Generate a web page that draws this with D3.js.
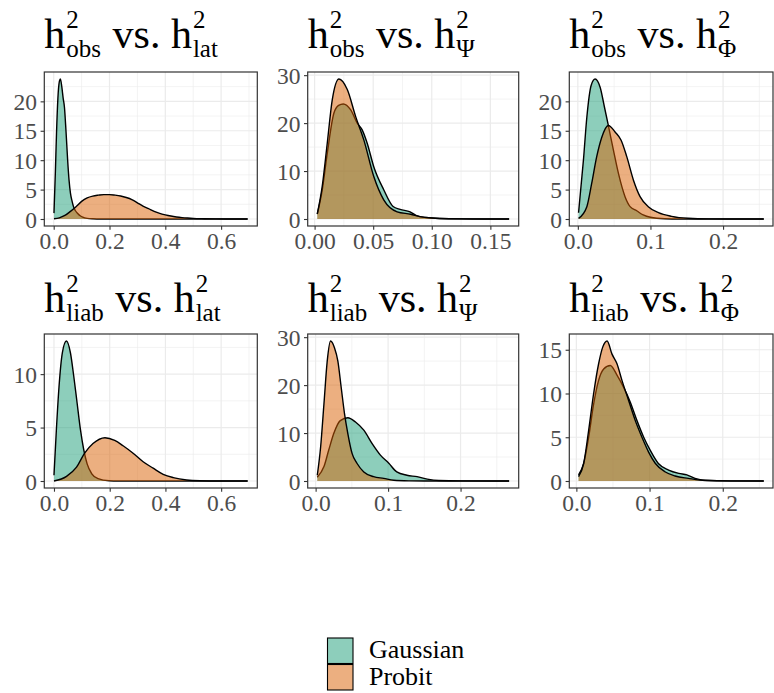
<!DOCTYPE html>
<html>
<head>
<script src="https://d3js.org/d3.v7.min.js"></script>
<style>
  body { margin: 0; background: #fff; }
  svg { display: block; }
  text { font-family: 'Liberation Serif', 'DejaVu Serif', serif; }
</style>
</head>
<body>
<script>
// series names / colours (Dark2, drawn at alpha 0.5)
const seriesNames = ['Gaussian', 'Probit'];
const seriesColors = ['#1b9e77', '#d95f02'];

// densities: [x, density]
const gaussObsLat = [[0.001,1.0],[0.006,8],[0.010,14.5],[0.015,20.5],[0.020,23.3],[0.024,23.8],[0.029,22.5],[0.034,20.5],[0.0385,19],[0.044,15],[0.050,10],[0.055,6.6],[0.060,4.4],[0.066,3.0],[0.071,2.1],[0.078,1.4],[0.086,0.95],[0.095,0.55],[0.104,0.3],[0.12,0.1],[0.14,0.03],[0.17,0],[0.695,0]];
const probitObsLat = [[0.001,0.05],[0.02,0.2],[0.04,0.6],[0.06,1.3],[0.08,2.1],[0.10,3.0],[0.12,3.6],[0.14,3.9],[0.16,4.05],[0.18,4.15],[0.20,4.15],[0.22,4.05],[0.24,3.9],[0.26,3.65],[0.28,3.3],[0.30,2.75],[0.32,2.2],[0.34,1.75],[0.36,1.3],[0.38,0.95],[0.40,0.7],[0.42,0.5],[0.44,0.35],[0.46,0.24],[0.48,0.16],[0.50,0.1],[0.54,0.05],[0.58,0.02],[0.62,0.01],[0.66,0.003],[0.695,0]];

const gaussObsPsi = [[0.0023,1.0],[0.0065,6.0],[0.0108,13.7],[0.0165,22.1],[0.0205,23.7],[0.0245,24],[0.0307,22.8],[0.0364,20],[0.0406,18.6],[0.0449,15.8],[0.0505,10.9],[0.059,6.1],[0.067,2.6],[0.073,2.0],[0.0815,1.5],[0.087,0.7],[0.095,0.3],[0.107,0.1],[0.125,0.03],[0.145,0.01],[0.166,0]];
const probitObsPsi = [[0.0023,1.05],[0.0065,6.8],[0.0108,15.8],[0.0151,24.9],[0.0208,29.2],[0.0279,27],[0.035,21.4],[0.042,16.5],[0.0505,8.85],[0.059,4.0],[0.0705,1.5],[0.082,1.0],[0.09,0.5],[0.10,0.2],[0.115,0.05],[0.135,0.01],[0.16,0],[0.166,0]];

const gaussObsPhi = [[0.001,1.07],[0.0077,10],[0.0124,17.3],[0.0183,22.7],[0.0238,23.8],[0.0307,22.4],[0.0367,19],[0.042,15.9],[0.049,11.7],[0.056,7.7],[0.065,3.8],[0.072,2.1],[0.081,1.4],[0.09,0.7],[0.10,0.3],[0.12,0.05],[0.14,0],[0.256,0]];
const probitObsPhi = [[0.001,0.1],[0.0124,2.1],[0.019,6],[0.026,10.6],[0.033,13.9],[0.042,15.9],[0.0513,14.8],[0.0596,13.4],[0.0674,10.6],[0.0766,6.6],[0.0857,3.8],[0.097,2.1],[0.111,1.07],[0.129,0.45],[0.152,0.12],[0.18,0.02],[0.22,0.003],[0.256,0]];

const gaussLiabLat = [[0.0,0.54],[0.0086,4.8],[0.018,8.8],[0.030,12],[0.0446,13.1],[0.059,12],[0.071,9.8],[0.083,7.3],[0.095,4.8],[0.107,2.9],[0.119,1.6],[0.135,0.7],[0.158,0.22],[0.198,0.02],[0.23,0],[0.695,0]];
const probitLiabLat = [[0.0,0.0],[0.045,0.44],[0.081,1.3],[0.11,2.6],[0.14,3.5],[0.183,4.05],[0.218,3.8],[0.248,3.3],[0.284,2.6],[0.32,1.8],[0.356,1.2],[0.392,0.63],[0.428,0.32],[0.476,0.1],[0.524,0.03],[0.60,0.005],[0.695,0]];

const gaussLiabPsi = [[0.0023,0.8],[0.0115,3],[0.018,6.4],[0.025,9.9],[0.034,12.6],[0.0445,13.2],[0.055,12.3],[0.0665,10.6],[0.078,7.8],[0.0894,5.4],[0.101,3.7],[0.112,1.9],[0.126,1.2],[0.14,0.9],[0.154,0.4],[0.17,0.1],[0.20,0.02],[0.267,0]];
const probitLiabPsi = [[0.0023,1.2],[0.0069,7.1],[0.0115,16.1],[0.016,25],[0.0206,29.2],[0.026,27.8],[0.0307,25],[0.0353,19.5],[0.0399,14],[0.0445,9.85],[0.0504,5.7],[0.057,3.7],[0.0665,1.9],[0.08,0.9],[0.094,0.55],[0.108,0.15],[0.13,0.03],[0.15,0],[0.267,0]];

const gaussLiabPhi = [[0.003,0.7],[0.01,2],[0.0168,5],[0.0236,8.8],[0.0304,11.5],[0.0373,12.8],[0.0464,13.2],[0.0555,12.1],[0.0646,10.7],[0.0737,9.0],[0.0828,6.9],[0.092,5.0],[0.101,3.5],[0.112,2.0],[0.126,1.25],[0.14,0.87],[0.151,0.7],[0.162,0.3],[0.176,0.08],[0.21,0.01],[0.256,0]];
const probitLiabPhi = [[0.003,0.5],[0.01,2],[0.0168,5.8],[0.0236,10],[0.0304,13.4],[0.036,15.3],[0.042,16],[0.0487,14.5],[0.0555,13.4],[0.0623,11.5],[0.0714,9.2],[0.0805,6.9],[0.0896,5],[0.0987,3.3],[0.108,2],[0.121,1.06],[0.135,0.57],[0.153,0.3],[0.176,0.05],[0.21,0.005],[0.256,0]];

// tick values per panel
const xTicksLat = [0, 0.2, 0.4, 0.6];
const xTicksPsiObs = [0, 0.05, 0.10, 0.15];
const xTicksPhi = [0, 0.1, 0.2];
const yTicks5 = [0, 5, 10, 15, 20];
const yTicks10 = [0, 10, 20, 30];
const yTicksLiabLat = [0, 5, 10];
const yTicksLiabPhi = [0, 5, 10, 15];

const titleSubs = [['obs', 'lat'], ['obs', '\u03a8'], ['obs', '\u03a6'], ['liab', 'lat'], ['liab', '\u03a8'], ['liab', '\u03a6']];

const width = 774, height = 693;
const svg = d3.select('body').append('svg').attr('width', width).attr('height', height);

const panels = [
  { box: [44.3, 72, 257.3, 226], series: [gaussObsLat, probitObsLat], xt: xTicksLat, xf: '.1f', yt: yTicks5, sub: titleSubs[0], ty: 48 },
  { box: [307.7, 72, 518.7, 226], series: [gaussObsPsi, probitObsPsi], xt: xTicksPsiObs, xf: '.2f', yt: yTicks10, sub: titleSubs[1], ty: 48 },
  { box: [569.3, 72, 773, 226], series: [gaussObsPhi, probitObsPhi], xt: xTicksPhi, xf: '.1f', yt: yTicks5, sub: titleSubs[2], ty: 48 },
  { box: [44.3, 334, 257.3, 488], series: [gaussLiabLat, probitLiabLat], xt: xTicksLat, xf: '.1f', yt: yTicksLiabLat, sub: titleSubs[3], ty: 312 },
  { box: [307.7, 334, 518.7, 488], series: [gaussLiabPsi, probitLiabPsi], xt: xTicksPhi, xf: '.1f', yt: yTicks10, sub: titleSubs[4], ty: 312 },
  { box: [569.3, 334, 773, 488], series: [gaussLiabPhi, probitLiabPhi], xt: xTicksPhi, xf: '.1f', yt: yTicksLiabPhi, sub: titleSubs[5], ty: 312 }
];

function minorOf(ticks, domain) {
  const step = ticks[1] - ticks[0];
  const out = [];
  for (let v = ticks[0] - step / 2; v <= domain[1]; v += step) {
    if (v >= domain[0]) out.push(v);
  }
  return out;
}

function drawTitle(x0, yBase, sub1, sub2) {
  const g = svg.append('g').attr('fill', '#000');
  let cx = x0;
  const put = (txt, y, size) => g.append('text').attr('x', cx).attr('y', y).attr('font-size', size).style('white-space', 'pre').text(txt);
  [[sub1], [' vs. '], [sub2]].forEach(([s], i) => {
    if (i === 1) {
      cx += put(s, yBase, 42).node().getComputedTextLength();
      return;
    }
    cx += put('h', yBase, 42).node().getComputedTextLength() + 1;
    const w1 = put('2', yBase - 20, 25).node().getComputedTextLength();
    const w2 = put(s, yBase + 9, 25).node().getComputedTextLength();
    cx += Math.max(w1, w2) + 1;
  });
}

panels.forEach((p, i) => {
  const [x0, y0, x1, y1] = p.box;
  const allPts = p.series.flat();
  const xmin = d3.min(allPts, d => d[0]), xmax = d3.max(allPts, d => d[0]);
  const xr = xmax - xmin;
  const ymax = d3.max(allPts, d => d[1]);
  const x = d3.scaleLinear().domain([xmin - 0.05 * xr, xmax + 0.05 * xr]).range([x0, x1]);
  const y = d3.scaleLinear().domain([-0.05 * ymax, 1.05 * ymax]).range([y1, y0]);

  const g = svg.append('g');
  const clipId = 'clip' + i;
  g.append('clipPath').attr('id', clipId).append('rect').attr('x', x0).attr('y', y0).attr('width', x1 - x0).attr('height', y1 - y0);

  const grid = g.append('g').attr('clip-path', `url(#${clipId})`);
  minorOf(p.xt, x.domain()).forEach(v => grid.append('line').attr('x1', x(v)).attr('x2', x(v)).attr('y1', y0).attr('y2', y1).attr('stroke', '#ebebeb').attr('stroke-width', 0.6));
  minorOf(p.yt, y.domain()).forEach(v => grid.append('line').attr('y1', y(v)).attr('y2', y(v)).attr('x1', x0).attr('x2', x1).attr('stroke', '#ebebeb').attr('stroke-width', 0.6));
  p.xt.forEach(v => grid.append('line').attr('x1', x(v)).attr('x2', x(v)).attr('y1', y0).attr('y2', y1).attr('stroke', '#ebebeb').attr('stroke-width', 1.2));
  p.yt.forEach(v => grid.append('line').attr('y1', y(v)).attr('y2', y(v)).attr('x1', x0).attr('x2', x1).attr('stroke', '#ebebeb').attr('stroke-width', 1.2));

  const area = d3.area().x(d => x(d[0])).y0(y(0)).y1(d => y(d[1])).curve(d3.curveMonotoneX);
  const line = d3.line().x(d => x(d[0])).y(d => y(d[1])).curve(d3.curveMonotoneX);
  const marks = g.append('g').attr('clip-path', `url(#${clipId})`);
  p.series.forEach((s, k) => {
    marks.append('path').attr('d', area(s)).attr('fill', seriesColors[k]).attr('fill-opacity', 0.5);
    marks.append('path').attr('d', line(s)).attr('fill', 'none').attr('stroke', '#000').attr('stroke-width', 1.4);
  });

  g.append('rect').attr('x', x0).attr('y', y0).attr('width', x1 - x0).attr('height', y1 - y0)
    .attr('fill', 'none').attr('stroke', '#333').attr('stroke-width', 1.2);

  const xAxis = g.append('g').attr('transform', `translate(0,${y1})`)
    .call(d3.axisBottom(x).tickValues(p.xt).tickFormat(d3.format(p.xf)).tickSize(3.7).tickSizeOuter(0).tickPadding(3));
  const yAxis = g.append('g').attr('transform', `translate(${x0},0)`)
    .call(d3.axisLeft(y).tickValues(p.yt).tickFormat(d3.format('d')).tickSize(3.7).tickSizeOuter(0).tickPadding(3.5));
  [xAxis, yAxis].forEach(a => {
    a.select('.domain').remove();
    a.selectAll('.tick line').attr('stroke', '#333').attr('stroke-width', 1.1);
    a.selectAll('.tick text').attr('fill', '#4d4d4d').attr('font-size', 23.5).attr('font-family', "'Liberation Serif', serif");
  });
  yAxis.selectAll('.tick text').attr('dy', '0.34em');

  drawTitle(x0, p.ty, p.sub[0], p.sub[1]);
});

// legend
const legend = svg.append('g');
seriesNames.forEach((name, k) => {
  const ky = 638 + k * 26.5;
  legend.append('rect').attr('x', 327.5).attr('y', ky).attr('width', 25.5).attr('height', 25.5)
    .attr('fill', seriesColors[k]).attr('fill-opacity', 0.5).attr('stroke', '#000').attr('stroke-width', 1.1);
  legend.append('text').attr('x', 369).attr('y', ky + 20).attr('font-size', 26).attr('fill', '#000').text(name);
});
</script>
</body>
</html>
